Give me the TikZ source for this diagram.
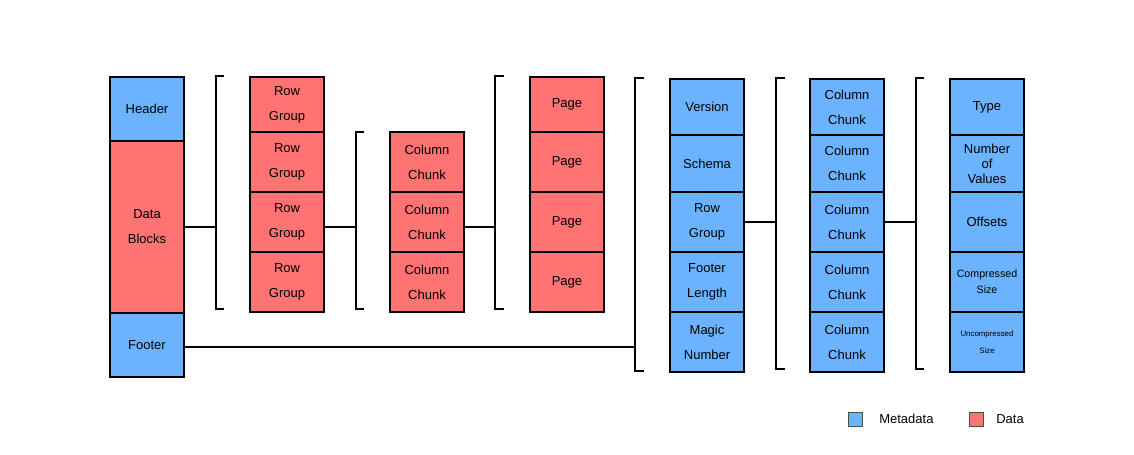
\documentclass[tikz,border=0pt]{standalone}
\usepackage{fontspec}
\setmainfont{Liberation Sans}
\usetikzlibrary{positioning}
\definecolor{metablue}{RGB}{108,179,255}
\definecolor{datared}{RGB}{255,115,115}

\begin{document}
\begin{tikzpicture}[x=0.75pt, y=-0.75pt,
	cell/.style = {draw, line width=1.5pt, outer sep=0pt, inner sep=0pt, minimum width=55.5pt, align=center, font=\fontsize{9.75}{18.75}\selectfont},
	metacell/.style = {cell, fill=metablue},
	datacell/.style = {cell, fill=datared},
	link/.style = {line width=1.5pt},
	bracket/.style = {line width=1.5pt},
	keybox/.style = {draw=black!70, line width=0.75pt, minimum size=10.5pt, inner sep=0pt},
	keytext/.style = {anchor=west, inner sep=0pt, font=\fontsize{9.75}{12}\selectfont}]
	\useasboundingbox (0,0) rectangle (1134,454);

	% file
	\node [metacell, minimum height=48pt, anchor=north] (header) at (147,77) {Header};
	\node [datacell, minimum height=129pt, below=0pt of header] (blocks) {Data\\Blocks};
	\node [metacell, minimum height=48pt, below=0pt of blocks] (footer) {Footer};

	% row groups
	\node [datacell, minimum height=41.25pt, anchor=north] (rg1) at (287,77) {Row\\Group};
	\foreach \i [remember=\i as \last (initially 1)] in {2,3,4}
		\node [datacell, minimum height=45pt, below=0pt of rg\last] (rg\i) {Row\\Group};

	% column chunks
	\node [datacell, minimum height=45pt, anchor=north] (cc1) at (427,132) {Column\\Chunk};
	\foreach \i [remember=\i as \last (initially 1)] in {2,3}
		\node [datacell, minimum height=45pt, below=0pt of cc\last] (cc\i) {Column\\Chunk};

	% pages
	\node [datacell, minimum height=41.25pt, anchor=north] (pg1) at (567,77) {Page};
	\foreach \i [remember=\i as \last (initially 1)] in {2,3,4}
		\node [datacell, minimum height=45pt, below=0pt of pg\last] (pg\i) {Page};

	% footer metadata
	\node [metacell, minimum height=42pt, anchor=north] (version) at (707,79) {Version};
	\node [metacell, minimum height=42.75pt, below=0pt of version] (schema) {Schema};
	\node [metacell, minimum height=45pt, below=0pt of schema] (mrg) {Row\\Group};
	\node [metacell, minimum height=45pt, below=0pt of mrg] (flength) {Footer\\Length};
	\node [metacell, minimum height=45pt, below=0pt of flength] (magic) {Magic\\Number};

	% column chunk metadata
	\node [metacell, minimum height=42pt, anchor=north] (mcc1) at (847,79) {Column\\Chunk};
	\node [metacell, minimum height=42.75pt, below=0pt of mcc1] (mcc2) {Column\\Chunk};
	\foreach \i [remember=\i as \last (initially 2)] in {3,4,5}
		\node [metacell, minimum height=45pt, below=0pt of mcc\last] (mcc\i) {Column\\Chunk};

	% column fields
	\node [metacell, minimum height=42pt, anchor=north] (type) at (987,79) {Type};
	\node [metacell, minimum height=42.75pt, below=0pt of type, font=\fontsize{9.75}{11.25}\selectfont] (nvalues) {Number\\of\\Values};
	\node [metacell, minimum height=45pt, below=0pt of nvalues] (offsets) {Offsets};
	\node [metacell, minimum height=45pt, below=0pt of offsets, font=\fontsize{8}{12}\selectfont] (csize) {Compressed\\Size};
	\node [metacell, minimum height=45pt, below=0pt of csize, font=\fontsize{5.9}{12.5}\selectfont] (usize) {Uncompressed\\Size};

	% brackets
	\draw [bracket] (224,76) -- (216,76) -- (216,309) -- (224,309);
	\draw [bracket] (364,132) -- (356,132) -- (356,309) -- (364,309);
	\draw [bracket] (504,76) -- (495,76) -- (495,309) -- (504,309);
	\draw [bracket] (644,78) -- (635,78) -- (635,371) -- (644,371);
	\draw [bracket] (785,78) -- (776,78) -- (776,369) -- (785,369);
	\draw [bracket] (924,78) -- (916,78) -- (916,369) -- (924,369);
	\coordinate (br1) at (216,227);
	\coordinate (br2) at (356,227);
	\coordinate (br3) at (495,227);
	\coordinate (br4) at (635,347);
	\coordinate (br5) at (776,221);
	\coordinate (br6) at (916,221);

	% links
	\draw [link] (blocks.east) -- (blocks.east -| br1);
	\draw [link] (rg1.east |- br2) -- (br2);
	\draw [link] (cc1.east |- br3) -- (br3);
	\draw [link] (footer.east |- br4) -- (br4);
	\draw [link] (mrg.east) -- (mrg.east -| br5);
	\draw [link] (mcc3.east) -- (mcc3.east -| br6);

	% legend
	\node [keybox, fill=metablue] (keymeta) at (855,419.5) {};
	\node [keytext] (keymetatext) at (879,419) {Metadata};
	\node [keybox, fill=datared] (keydata) at (976,419.5) {};
	\node [keytext] (keydatatext) at (996,419) {Data};
\end{tikzpicture}
\end{document}
